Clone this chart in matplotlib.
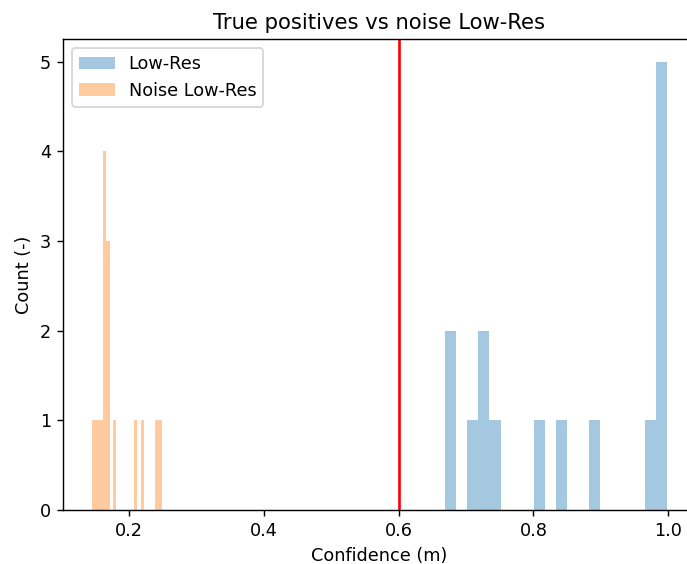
import numpy as np
import matplotlib.pyplot as plt

# confidences
low_res = [0.669, 0.680, 0.710, 0.722, 0.728, 0.742, 0.808, 0.841,
           0.890, 0.972, 0.985, 0.990, 0.993, 0.995, 0.998]
noise_low_res = [0.145, 0.152, 0.158, 0.161, 0.162, 0.163, 0.164, 0.166,
                 0.168, 0.170, 0.178, 0.209, 0.219, 0.240, 0.248]
threshold = 0.6

dpi = 127
fig = plt.figure(figsize=(687 / dpi, 564 / dpi), dpi=dpi)
ax = fig.add_axes([0.0924, 0.0957, 0.92, 0.835])

ax.hist(low_res, bins=20, alpha=0.4, label="Low-Res")
ax.hist(noise_low_res, bins=20, alpha=0.4, label="Noise Low-Res")
ax.axvline(threshold, color="red")

ax.set_title("True positives vs noise Low-Res")
ax.set_xlabel("Confidence (m)")
ax.set_ylabel("Count (-)")
ax.legend(loc="upper left")

fig.savefig("out.png", dpi=dpi)
